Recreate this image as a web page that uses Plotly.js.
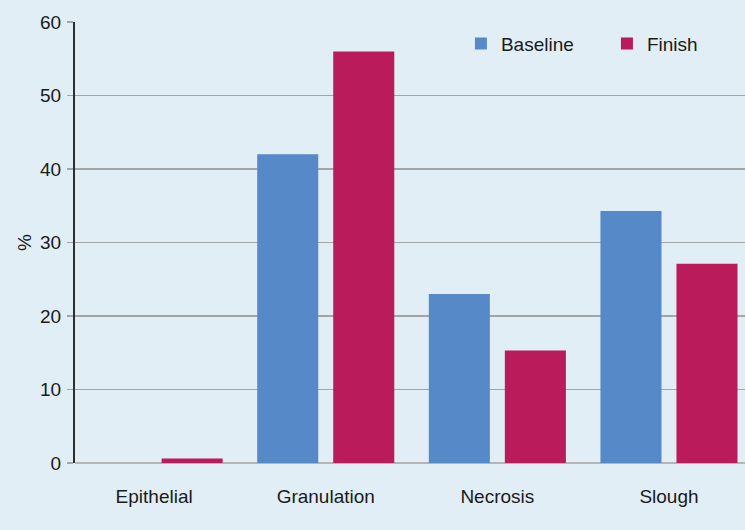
<!DOCTYPE html>
<html>
<head>
<meta charset="utf-8">
<script src="https://cdn.plot.ly/plotly-3.0.1.min.js"></script>
<style>
  html, body { margin: 0; padding: 0; background: #e1eef6; }
  #chart { width: 745px; height: 530px; }
</style>
</head>
<body>
<div id="chart"></div>
<script>
// Wound bed tissue composition (%), at baseline and at finish
const categories = ["Epithelial", "Granulation", "Necrosis", "Slough"];
const baseline = [0, 42, 23, 34.3];
const finish = [0.6, 56, 15.3, 27.1];
const yTicks = [0, 10, 20, 30, 40, 50, 60];

const bg = "#e1eef6";
const textColor = "#1a1a1a";
const fontFamily = "Liberation Sans, Arial, Helvetica, sans-serif";

const traces = [
  {
    type: "bar",
    name: "Baseline",
    x: categories,
    y: baseline,
    marker: { color: "#5589c8" },
    hoverinfo: "x+y+name"
  },
  {
    type: "bar",
    name: "Finish",
    x: categories,
    y: finish,
    marker: { color: "#b91b5b" },
    hoverinfo: "x+y+name"
  }
];

const layout = {
  width: 745,
  height: 530,
  paper_bgcolor: bg,
  plot_bgcolor: bg,
  font: { family: fontFamily, size: 19, color: textColor },
  margin: { l: 75, r: 0, t: 22, b: 67, autoexpand: false },
  barmode: "group",
  bargap: 0.114,
  bargroupgap: 0.197,
  showlegend: true,
  legend: {
    orientation: "h",
    xref: "paper",
    yref: "paper",
    x: 0.576,
    y: 0.994,
    xanchor: "left",
    yanchor: "top",
    bgcolor: "rgba(0,0,0,0)",
    entrywidthmode: "pixels",
    entrywidth: 101,
    font: { family: fontFamily, size: 19, color: textColor },
    traceorder: "normal"
  },
  xaxis: {
    type: "category",
    range: [-0.461, 3.443],
    showgrid: false,
    showline: false,
    zeroline: false,
    ticks: "",
    ticklabelstandoff: 20,
    tickfont: { family: fontFamily, size: 19, color: textColor },
    fixedrange: true
  },
  yaxis: {
    range: [0, 60],
    tickvals: yTicks,
    ticktext: yTicks.map(String),
    showgrid: true,
    gridcolor: "#a3a6a8",
    gridwidth: 1.6,
    zeroline: true,
    zerolinecolor: "#b3b5b7",
    zerolinewidth: 2.5,
    showline: true,
    linecolor: "#2b2d2f",
    linewidth: 2,
    ticks: "outside",
    ticklen: 6,
    tickcolor: "#a3a6a8",
    tickwidth: 1.6,
    ticklabelstandoff: 2,
    tickfont: { family: fontFamily, size: 19, color: textColor },
    title: {
      text: "%",
      standoff: 3,
      font: { family: fontFamily, size: 19, color: textColor }
    },
    fixedrange: true
  }
};

Plotly.newPlot("chart", traces, layout, { displayModeBar: false, staticPlot: true });
</script>
</body>
</html>
